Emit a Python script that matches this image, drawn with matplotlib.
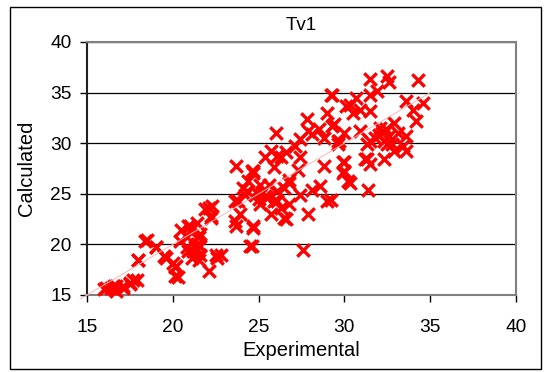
import numpy as np
import matplotlib
matplotlib.use("Agg")
from matplotlib import pyplot as plt
from matplotlib.patches import Rectangle

plt.rcParams['font.family'] = ['Liberation Sans', 'DejaVu Sans']

# values (Experimental, Calculated)
experimental = [
    16.0, 16.1, 16.4, 16.6, 16.7, 16.7, 17.1, 17.1, 17.5, 17.5, 17.7, 17.9,
    18.0, 18.0, 18.4, 18.5, 19.0, 19.0, 19.5, 19.6, 20.0, 20.1, 20.1, 20.2,
    20.3, 20.4, 20.5, 20.8, 20.8, 20.9, 20.9, 21.0, 21.0, 21.1, 21.2, 21.3,
    21.4, 21.4, 21.5, 21.5, 21.6, 21.6, 21.6, 21.9, 22.1, 22.1, 22.2, 22.2,
    22.3, 22.5, 22.6, 22.8, 23.6, 23.6, 23.7, 23.7, 23.8, 23.9, 24.2, 24.3,
    24.4, 24.5, 24.6, 24.6, 24.7, 24.7, 24.7, 24.7, 24.9, 25.1, 25.1, 25.4,
    25.5, 25.7, 25.7, 25.9, 25.9, 26.0, 26.1, 26.1, 26.1, 26.3, 26.3, 26.5,
    26.5, 26.6, 26.6, 26.8, 26.8, 26.8, 27.1, 27.3, 27.4, 27.4, 27.4, 27.6,
    27.8, 27.9, 27.9, 28.1, 28.1, 28.5, 28.6, 28.8, 28.8, 29.0, 29.0, 29.2,
    29.2, 29.3, 29.3, 29.4, 29.6, 29.6, 29.7, 29.9, 29.9, 30.0, 30.0, 30.0,
    30.1, 30.2, 30.3, 30.3, 30.5, 30.7, 30.9, 30.9, 31.2, 31.3, 31.3, 31.4,
    31.5, 31.5, 31.5, 31.5, 31.5, 31.9, 32.3, 32.3, 32.4, 32.5, 32.5, 32.6,
    32.6, 32.8, 32.9, 32.9, 33.1, 33.4, 33.6, 33.6, 33.6, 34.0, 34.2, 34.3,
    34.6, 25.2, 25.4, 25.0, 24.1, 25.6, 32.0, 32.1, 31.8, 32.2,
]
calculated = [
    15.6, 15.7, 15.7, 15.9, 15.4, 15.9, 15.9, 15.7, 16.1, 16.2, 16.5, 16.5,
    18.5, 18.5, 20.3, 20.4, 19.7, 19.7, 18.9, 18.7, 18.2, 17.8, 16.9, 17.9,
    16.8, 20.3, 21.4, 20.7, 19.7, 21.8, 19.3, 21.3, 21.8, 18.7, 19.3, 19.7,
    22.1, 20.0, 20.7, 18.5, 21.0, 19.8, 19.0, 23.5, 23.6, 17.4, 22.6, 22.8,
    23.8, 19.0, 18.7, 19.0, 24.3, 22.3, 27.7, 21.8, 24.3, 23.0, 24.9, 25.3,
    26.3, 19.8, 19.8, 27.3, 27.1, 21.8, 21.6, 27.3, 25.1, 24.0, 25.9, 28.6,
    24.6, 29.2, 23.0, 24.3, 27.6, 31.0, 28.7, 24.3, 25.3, 28.6, 23.6, 22.6,
    25.6, 29.1, 22.5, 26.4, 26.1, 24.0, 29.7, 27.4, 30.4, 28.6, 24.9, 19.4,
    32.4, 23.0, 31.2, 30.9, 25.4, 31.4, 25.8, 30.5, 27.7, 33.0, 24.3, 34.8,
    24.4, 31.7, 34.8, 31.9, 30.2, 29.9, 30.2, 27.1, 28.1, 31.0, 28.1, 27.3,
    33.7, 26.3, 33.8, 26.1, 33.0, 34.5, 33.3, 31.2, 28.4, 28.4, 29.9, 25.4,
    36.3, 34.8, 30.2, 27.9, 33.2, 35.2, 30.2, 28.4, 31.4, 36.6, 29.9, 36.0,
    30.7, 29.9, 32.0, 29.2, 31.0, 29.7, 34.2, 30.7, 29.2, 33.3, 32.2, 36.2,
    34.0, 25.2, 24.8, 24.5, 25.6, 25.9, 30.8, 31.5, 30.5, 31.0,
]

title = "Tv1"
x_label = "Experimental"
y_label = "Calculated"
x_ticks = [15, 20, 25, 30, 35, 40]
y_ticks = [15, 20, 25, 30, 35, 40]

fig = plt.figure(figsize=(5.45, 3.72), dpi=100)
fig.patch.set_facecolor("white")
fig.patches.append(Rectangle((10 / 545, 3 / 372), 531 / 545, 362 / 372,
                             transform=fig.transFigure, fill=False,
                             edgecolor="black", linewidth=1.0))

ax = fig.add_axes([87 / 545, 1 - 295 / 372, 429 / 545, 253 / 372])

ax.scatter(experimental, calculated, marker="x", color="#ff0000",
           s=80, linewidths=2.4, zorder=3, clip_on=False)

# faint 1:1 line
ax.plot([14.6, 35.0], [14.6, 35.0], color="#ffb4b4", linewidth=0.7,
        clip_on=False, zorder=4)

ax.set_xlim(15, 40)
ax.set_ylim(15, 40)
ax.set_xticks(x_ticks)
ax.set_yticks(y_ticks)
ax.yaxis.grid(True, color="black", linewidth=0.9)
ax.set_axisbelow(True)
for s in ax.spines.values():
    s.set_color("#808080")
    s.set_linewidth(1.5)
ax.spines["left"].set_color("#202020")
ax.tick_params(direction="out", length=5, width=1, color="black",
               labelsize=13.8)
ax.tick_params(axis="x", pad=12)
ax.tick_params(axis="y", pad=6)

ax.set_title(title, fontsize=13.5, pad=9)
ax.set_xlabel(x_label, fontsize=14.5, labelpad=4)
ax.set_ylabel(y_label, fontsize=14.5, labelpad=10)

fig.savefig("out.png", dpi=100)
